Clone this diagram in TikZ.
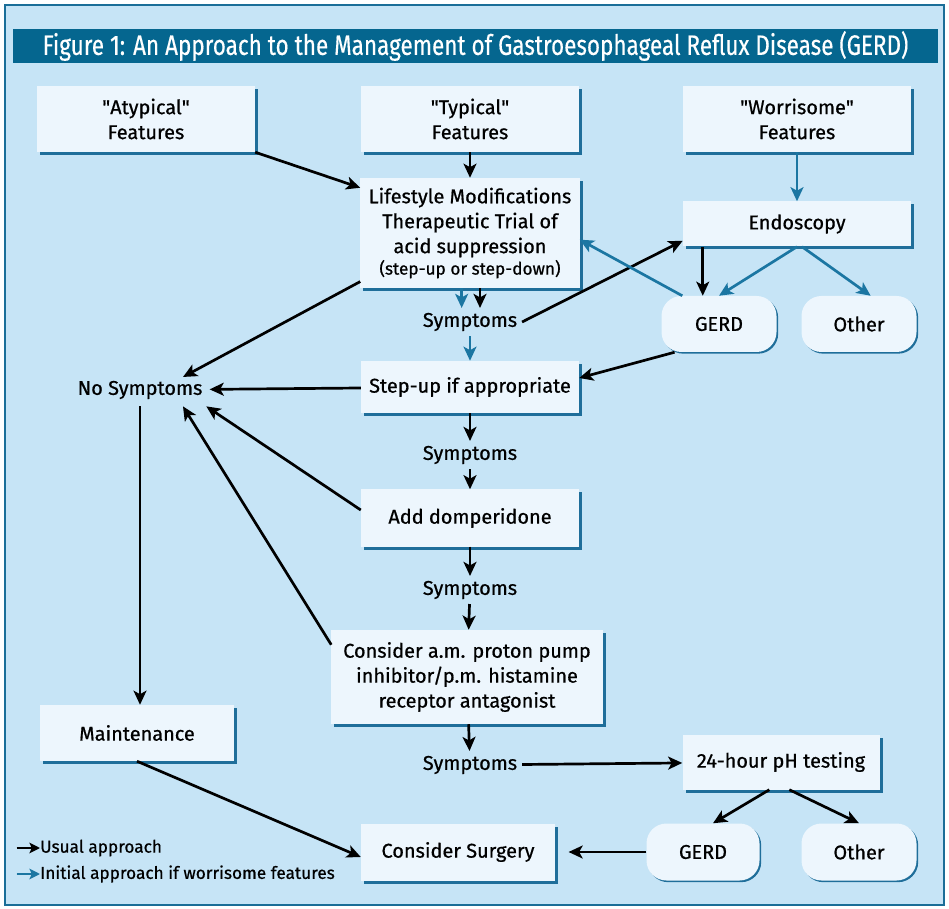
\documentclass[tikz,border=0pt]{standalone}
\usepackage{fontspec}
\setmainfont{Fira Sans}[FakeBold=0.7]
\newfontfamily\titlefont{Fira Sans}[FakeStretch=0.8, FakeBold=0.4]
\usetikzlibrary{arrows.meta,shadows}
\definecolor{bgblue}{HTML}{C6E4F6}
\definecolor{frameblue}{HTML}{1A6E98}
\definecolor{titleblue}{HTML}{05668F}
\definecolor{boxfill}{HTML}{EDF6FD}
\definecolor{shadowblue}{HTML}{1F6E9A}
\definecolor{arrowblue}{HTML}{1B76A2}

\tikzset{
  box/.style={rectangle, fill=boxfill, align=center, inner sep=0pt,
    font=\fontsize{17}{21.3}\selectfont,
    drop shadow={shadow xshift=0.09cm, shadow yshift=-0.09cm, fill=shadowblue, opacity=1}},
  pill/.style={rectangle, rounded corners=0.6cm, fill=boxfill, align=center, inner sep=0pt,
    font=\fontsize{17}{21.3}\selectfont,
    drop shadow={shadow xshift=0.05cm, shadow yshift=-0.05cm, fill=shadowblue, opacity=1}},
  symtext/.style={font=\fontsize{17}{21.3}\selectfont, inner sep=4pt},
  small/.style={font=\fontsize{14.7}{17}\selectfont},
  usual/.style={-{Stealth[length=12pt,width=11pt,inset=3pt]}, line width=2.3pt, black},
  worry/.style={usual, draw=arrowblue, fill=arrowblue},
}

\begin{document}
\begin{tikzpicture}[x=0.03cm, y=-0.03cm]
\useasboundingbox (0,0) rectangle (949,909);
% frame and title
\fill[bgblue] (5,5) rectangle (944,905);
\draw[frameblue, line width=1.5pt] (5,5) rectangle (944,905);
\node (title) [fill=titleblue, text=white, minimum width=27.75cm, minimum height=1.02cm, inner sep=0pt,
  font=\titlefont\fontsize{24}{26}\selectfont] at (475.5,46)
  {Figure 1: An Approach to the Management of Gastroesophageal Reflux Disease (GERD)};

% top row
\node (atyp) [box, minimum width=6.54cm, minimum height=1.98cm] at (146,119) {\textquotedbl Atypical\textquotedbl\\Features};
\node (typ)  [box, minimum width=6.54cm, minimum height=1.98cm] at (470,119) {\textquotedbl Typical\textquotedbl\\Features};
\node (wor)  [box, minimum width=6.84cm, minimum height=1.98cm] at (797,119) {\textquotedbl Worrisome\textquotedbl\\Features};

% main column
\node (life) [box, minimum width=6.57cm, minimum height=3.3cm] at (470,233)
  {Lifestyle Modifications\\Therapeutic Trial of\\acid suppression\\[-3pt]{\fontsize{14.7}{17}\selectfont(step-up or step-down)}};
\node (symA) [symtext] at (470,322) {Symptoms};
\node (stepup) [box, minimum width=6.54cm, minimum height=1.56cm] at (470,387) {Step-up if appropriate};
\node (symB) [symtext] at (470,455) {Symptoms};
\node (adddom) [box, minimum width=6.54cm, minimum height=1.71cm] at (470,518) {Add domperidone};
\node (symC) [symtext] at (470,590) {Symptoms};
\node (amcons) [box, minimum width=8.13cm, minimum height=2.82cm] at (467,677)
  {Consider a.m. proton pump\\inhibitor/p.m. histamine\\receptor antagonist};
\node (symD) [symtext] at (470,765) {Symptoms};
\node (surgery) [box, minimum width=5.82cm, minimum height=1.71cm] at (458,852) {Consider Surgery};

% right side
\node (endo) [box, minimum width=6.84cm, minimum height=1.35cm] at (797,224) {Endoscopy};
\node (gerdA) [pill, minimum width=3.45cm, minimum height=1.68cm] at (719,324) {GERD};
\node (otherA) [pill, minimum width=3.45cm, minimum height=1.68cm] at (859,324) {Other};
\node (phtest) [box, minimum width=5.91cm, minimum height=1.65cm] at (781,762) {24-hour pH testing};
\node (gerdB) [pill, minimum width=3.39cm, minimum height=1.71cm] at (703,852) {GERD};
\node (otherB) [pill, minimum width=3.45cm, minimum height=1.71cm] at (859,852) {Other};

% left side
\node (nosym) [symtext, inner sep=6pt] at (140,390) {No Symptoms};
\node (maint) [box, minimum width=5.82cm, minimum height=1.68cm] at (137,733) {Maintenance};

% legend
\node (legA) [small, anchor=west, inner sep=0pt] at (40,848) {Usual approach};
\node (legB) [small, anchor=west, inner sep=0pt] at (40,874) {Initial approach if worrisome features};
\draw[usual, -{Stealth[length=9pt,width=9pt,inset=2pt]}, line width=1.8pt] ([xshift=-0.7cm]legA.west) -- (legA.west);
\draw[worry, -{Stealth[length=9pt,width=9pt,inset=2pt]}, line width=1.8pt] ([xshift=-0.7cm]legB.west) -- (legB.west);

% connectors
\draw[usual] (atyp.south east) -- ([yshift=-0.3cm]life.north west);
\draw[usual] (typ) -- (life);
\draw[worry] (wor) -- (endo);
\draw[worry] ([xshift=-0.25cm]life.south) -- ([xshift=-0.25cm]symA.north);
\draw[usual] ([xshift=0.3cm]life.south) -- ([xshift=0.3cm]symA.north);
\draw[worry] (symA) -- (stepup);
\draw[usual] (symA.east) -- ([yshift=0.18cm]endo.south west);
\draw[worry] ([xshift=0.63cm]gerdA.north west) -- ([yshift=-0.2cm]life.east);
\draw[usual] ([xshift=0.6cm]endo.south west) -- ([xshift=0.6cm]endo.south west |- gerdA.north);
\draw[worry] (endo.south) -- (gerdA.north);
\draw[worry] ([xshift=0.15cm]endo.south) -- ([xshift=0.35cm]otherA.north);
\draw[usual] ([xshift=0.4cm]gerdA.south west) -- ([yshift=0.27cm]stepup.east);
\draw[usual] ([yshift=0.2cm]life.south west) -- ([xshift=-0.8cm,yshift=-0.1cm]nosym.north east);
\draw[usual] (stepup) -- (nosym);
\draw[usual] (stepup) -- (symB);
\draw[usual] (symB) -- (adddom);
\draw[usual] ([yshift=0.24cm]adddom.west) -- ([xshift=-0.1cm]nosym.south east);
\draw[usual] (adddom) -- (symC);
\draw[usual] (symC) -- (amcons);
\draw[usual] ([yshift=-0.45cm]amcons.north west) -- ([xshift=-0.8cm]nosym.south east);
\draw[usual] (amcons) -- (symD);
\draw[usual] (nosym.south) -- (nosym.south |- maint.north);
\draw[usual] (symD) -- (phtest);
\draw[usual] (maint.south) -- ([yshift=-0.15cm]surgery.west);
\draw[usual] ([xshift=-0.35cm]phtest.south) -- ([xshift=0.3cm]gerdB.north);
\draw[usual] ([xshift=0.25cm]phtest.south) -- (otherB.north);
\draw[usual] (gerdB) -- ([xshift=0.4cm]surgery.east);
\end{tikzpicture}
\end{document}
